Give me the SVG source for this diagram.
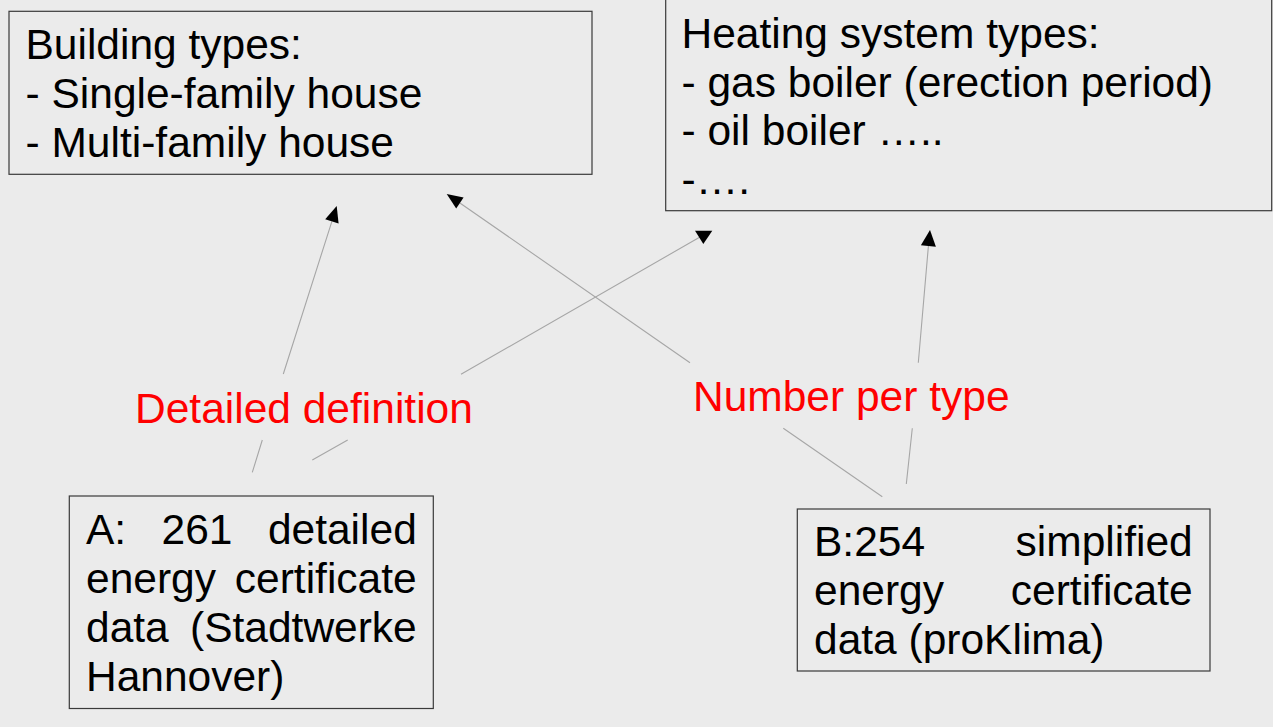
<svg xmlns="http://www.w3.org/2000/svg" width="1273" height="727" viewBox="0 0 1273 727">
<style>
.bg{fill:#ebebeb}
.box{fill:#ebebeb;stroke:#3a3a3a;stroke-width:1.2}
.t{font-family:"Liberation Sans",Arial,sans-serif;font-size:42.5px;fill:#000}
.lbl{font-family:"Liberation Sans",Arial,sans-serif;font-size:42.5px;fill:#ff0000}
.c{fill:none;stroke:#a6a6a6;stroke-width:1.1}
.ah{fill:#000}
</style>
<rect class="bg" x="0" y="0" width="1273" height="727"/>
<g id="connectors">
<path class="c" d="M252.3 472.3 L262.3 440 M283.3 374 L331.9 221.3"/>
<polygon class="ah" points="336.7,206 338.6,223.4 325.2,219.2"/>
<path class="c" d="M312.3 460 L347.7 440 M461 374.3 L700 237"/>
<polygon class="ah" points="695,230.7 712.3,230.7 703.3,244"/>
<path class="c" d="M882.3 496.7 L783.3 428.3 M690 362.7 L459.9 203"/>
<polygon class="ah" points="446.7,194 463.6,197.6 456.2,208.4"/>
<path class="c" d="M906.3 484 L912.3 428.3 M918.3 362.7 L928.4 246"/>
<polygon class="ah" points="930,230 935.9,246.8 920.9,245.3"/>
</g>
<g id="building-types">
<rect class="box" x="9" y="11.3" width="583" height="163"/>
<text class="t"><tspan x="25.5" y="59">Building types:</tspan><tspan x="25.5" y="108">- Single-family house</tspan><tspan x="25.5" y="157">- Multi-family house</tspan></text>
</g>
<g id="heating-types">
<rect class="box" x="665.7" y="-5" width="606" height="215.7"/>
<text class="t"><tspan x="681.5" y="48">Heating system types:</tspan><tspan x="681.5" y="96.5">- gas boiler (erection period)</tspan><tspan x="681.5" y="145">- oil boiler …..</tspan><tspan x="681.5" y="193.5">-….</tspan></text>
</g>
<g id="label-detailed">
<text class="lbl" x="135" y="423">Detailed definition</text>
</g>
<g id="label-number">
<text class="lbl" x="693" y="411">Number per type</text>
</g>
<g id="data-a">
<rect class="box" x="69.3" y="496" width="364" height="212.5"/>
<text class="t"><tspan x="86" y="544">A:</tspan><tspan x="161.6" y="544">261</tspan><tspan x="267.9" y="544">detailed</tspan><tspan x="86" y="593">energy</tspan><tspan x="234.8" y="593">certificate</tspan><tspan x="86" y="642">data</tspan><tspan x="190" y="642">(Stadtwerke</tspan><tspan x="86" y="691">Hannover)</tspan></text>
</g>
<g id="data-b">
<rect class="box" x="797.3" y="509" width="412.7" height="162"/>
<text class="t"><tspan x="814" y="556">B:254</tspan><tspan x="1015.6" y="556">simplified</tspan><tspan x="814" y="605">energy</tspan><tspan x="1010.8" y="605">certificate</tspan><tspan x="814" y="654">data (proKlima)</tspan></text>
</g>
</svg>
